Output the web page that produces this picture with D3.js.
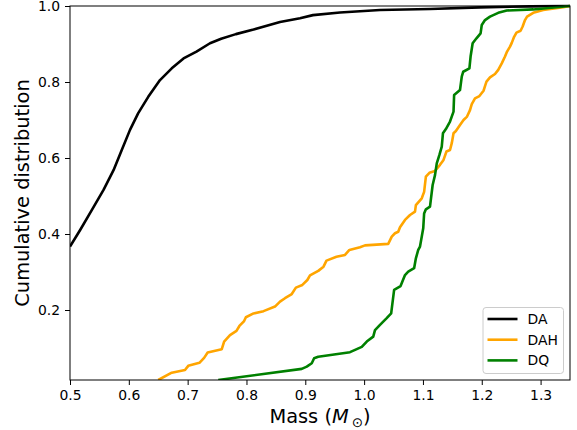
<!DOCTYPE html>
<html>
<head>
<meta charset="utf-8">
<script src="https://cdn.jsdelivr.net/npm/d3@7"></script>
<style>
  body { margin: 0; background: #fff; }
  svg { display: block; font-family: "DejaVu Sans", sans-serif; }
</style>
</head>
<body>
<svg></svg>
<script>
const width = 577;
const height = 430;
const margin = {left: 70, right: 7, top: 6, bottom: 50};

// cumulative distributions, [mass, fraction]
const daPoints = [
  [0.5, 0.367], [0.517, 0.41], [0.537, 0.463], [0.557, 0.516], [0.574, 0.568],
  [0.588, 0.621], [0.602, 0.674], [0.616, 0.718], [0.633, 0.761], [0.653, 0.805],
  [0.673, 0.836], [0.693, 0.862], [0.715, 0.88], [0.738, 0.902], [0.757, 0.914],
  [0.782, 0.926], [0.812, 0.938], [0.857, 0.958], [0.891, 0.968], [0.913, 0.976],
  [0.959, 0.983], [1.027, 0.9895], [1.112, 0.992], [1.197, 0.9965], [1.282, 0.999],
  [1.35, 1.0]
];

const dahPoints = [
  [0.650, 0.0158], [0.673, 0.035], [0.6955, 0.042], [0.701, 0.053], [0.720, 0.061],
  [0.728, 0.074], [0.734, 0.088], [0.758, 0.097], [0.762, 0.117], [0.772, 0.134],
  [0.783, 0.145], [0.788, 0.158], [0.796, 0.171], [0.799, 0.181], [0.812, 0.191],
  [0.829, 0.197], [0.8485, 0.209], [0.857, 0.222], [0.8655, 0.231], [0.877, 0.242],
  [0.884, 0.259], [0.895, 0.266], [0.9035, 0.279], [0.908, 0.291], [0.922, 0.303],
  [0.931, 0.314], [0.936, 0.330], [0.953, 0.340], [0.9675, 0.345], [0.975, 0.358],
  [0.993, 0.365], [1.0015, 0.370], [1.041, 0.374], [1.047, 0.393], [1.0525, 0.402],
  [1.058, 0.406], [1.061, 0.418], [1.0695, 0.437], [1.078, 0.450], [1.0865, 0.459],
  [1.088, 0.476], [1.098, 0.494], [1.102, 0.511], [1.105, 0.551], [1.111, 0.561],
  [1.1205, 0.566], [1.129, 0.582], [1.135, 0.595], [1.140, 0.617], [1.146, 0.621],
  [1.149, 0.639], [1.152, 0.665], [1.156, 0.671], [1.163, 0.687], [1.169, 0.700],
  [1.175, 0.709], [1.180, 0.726], [1.183, 0.742], [1.1885, 0.757], [1.196, 0.763],
  [1.203, 0.777], [1.2055, 0.789], [1.208, 0.801], [1.214, 0.812], [1.2225, 0.821],
  [1.228, 0.832], [1.234, 0.849], [1.2395, 0.867], [1.243, 0.880], [1.248, 0.893],
  [1.251, 0.903], [1.255, 0.919], [1.259, 0.930], [1.266, 0.935], [1.2695, 0.946],
  [1.2735, 0.963], [1.277, 0.972], [1.2875, 0.982], [1.3045, 0.9895], [1.3385, 0.9966],
  [1.35, 1.0]
];

const dqPoints = [
  [0.752, 0.0158], [0.894, 0.045], [0.9025, 0.051], [0.911, 0.060], [0.915, 0.073],
  [0.922, 0.077], [0.976, 0.089], [0.9875, 0.097], [0.996, 0.103], [1.0045, 0.117],
  [1.0155, 0.130], [1.0185, 0.147], [1.027, 0.161], [1.038, 0.178], [1.046, 0.191],
  [1.051, 0.253], [1.062, 0.263], [1.0695, 0.292], [1.075, 0.301], [1.085, 0.310],
  [1.088, 0.336], [1.092, 0.358], [1.095, 0.367], [1.1005, 0.415], [1.102, 0.454],
  [1.105, 0.465], [1.112, 0.472], [1.1165, 0.529], [1.1205, 0.555], [1.1235, 0.586],
  [1.128, 0.608], [1.132, 0.630], [1.134, 0.665], [1.139, 0.676], [1.146, 0.696],
  [1.152, 0.722], [1.153, 0.766], [1.163, 0.779], [1.166, 0.814], [1.1685, 0.827],
  [1.179, 0.836], [1.181, 0.867], [1.1845, 0.902], [1.191, 0.915], [1.198, 0.928],
  [1.200, 0.950], [1.2055, 0.963], [1.214, 0.972], [1.228, 0.982], [1.2425, 0.988],
  [1.2875, 0.991], [1.35, 1.0]
];

const seriesNames = ["DA", "DAH", "DQ"];
const seriesColors = ["black", "orange", "green"];
const xTicks = [0.5, 0.6, 0.7, 0.8, 0.9, 1.0, 1.1, 1.2, 1.3];
const yTicks = [0.2, 0.4, 0.6, 0.8, 1.0];

const series = [daPoints, dahPoints, dqPoints].map((pts, i) => ({
  name: seriesNames[i], color: seriesColors[i], values: pts
}));

let svg = d3.select("svg")
    .attr("width", width)
    .attr("height", height);

let scX = d3.scaleLinear()
    .domain([0.5, 1.35])
    .range([margin.left, width - margin.right]);

let scY = d3.scaleLinear()
    .domain([0.0158, 1.0])
    .range([height - margin.bottom, margin.top]);

svg.append("clipPath")
    .attr("id", "plotClip")
    .append("rect")
    .attr("x", margin.left)
    .attr("y", margin.top - 2)
    .attr("width", width - margin.left - margin.right)
    .attr("height", height - margin.top - margin.bottom + 2);

// curves
let line = d3.line()
    .x(d => scX(d[0]))
    .y(d => scY(d[1]));

svg.append("g")
    .attr("clip-path", "url(#plotClip)")
    .selectAll("path")
    .data(series)
    .enter()
    .append("path")
    .attr("d", d => line(d.values))
    .attr("fill", "none")
    .attr("stroke", d => d.color)
    .attr("stroke-width", 2.6)
    .attr("stroke-linejoin", "round");

// axes
let axisX = d3.axisBottom(scX)
    .tickValues(xTicks)
    .tickFormat(d3.format(".1f"))
    .tickSizeInner(5)
    .tickSizeOuter(0)
    .tickPadding(5);

let axisY = d3.axisLeft(scY)
    .tickValues(yTicks)
    .tickFormat(d3.format(".1f"))
    .tickSizeInner(5)
    .tickSizeOuter(0)
    .tickPadding(5);

let gx = svg.append("g")
    .attr("transform", `translate(0, ${height - margin.bottom})`)
    .call(axisX);

let gy = svg.append("g")
    .attr("transform", `translate(${margin.left}, 0)`)
    .call(axisY);

[gx, gy].forEach(g => {
  g.select(".domain").remove();
  g.selectAll("text")
    .attr("font-family", "DejaVu Sans")
    .attr("font-size", 13.9)
    .attr("fill", "#000");
  g.selectAll("line").attr("stroke", "#000").attr("stroke-width", 1);
});

// frame
svg.append("rect")
    .attr("x", margin.left)
    .attr("y", margin.top)
    .attr("width", width - margin.left - margin.right)
    .attr("height", height - margin.top - margin.bottom)
    .attr("fill", "none")
    .attr("stroke", "#000")
    .attr("stroke-width", 1);

// axis labels
let xLabel = svg.append("text")
    .attr("x", (margin.left + width - margin.right) / 2)
    .attr("y", 423)
    .attr("text-anchor", "middle")
    .attr("font-size", 19.4)
    .attr("fill", "#000");
xLabel.append("tspan").text("Mass (");
xLabel.append("tspan").attr("font-style", "italic").text("M");
xLabel.append("tspan").attr("dx", 3).attr("dy", 4).attr("font-size", 13.5).text("⊙");
xLabel.append("tspan").attr("dy", -4).text(")");

svg.append("text")
    .attr("transform", `translate(29, ${(margin.top + height - margin.bottom) / 2}) rotate(-90)`)
    .attr("text-anchor", "middle")
    .attr("font-size", 19.4)
    .attr("fill", "#000")
    .text("Cumulative distribution");

// legend
let legend = svg.append("g")
    .attr("transform", "translate(483, 307.5)");

legend.append("rect")
    .attr("width", 80.5)
    .attr("height", 66)
    .attr("rx", 3)
    .attr("fill", "white")
    .attr("fill-opacity", 0.8)
    .attr("stroke", "#ccc")
    .attr("stroke-width", 1);

let items = legend.selectAll("g.item")
    .data(series)
    .enter()
    .append("g")
    .attr("class", "item")
    .attr("transform", (d, i) => `translate(0, ${11.5 + i * 20.7})`);

items.append("line")
    .attr("x1", 4.5)
    .attr("x2", 34.5)
    .attr("stroke", d => d.color)
    .attr("stroke-width", 2.6);

items.append("text")
    .attr("x", 44.5)
    .attr("dy", "0.35em")
    .attr("font-size", 13.9)
    .attr("fill", "#000")
    .text(d => d.name);
</script>
</body>
</html>
